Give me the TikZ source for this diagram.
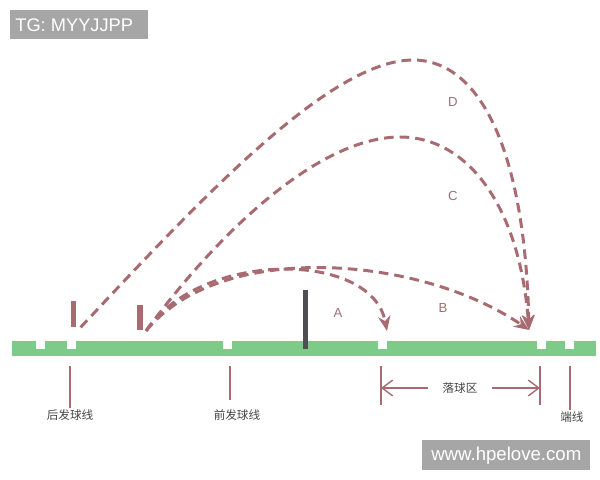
\documentclass[tikz,border=0pt]{standalone}
\usepackage{fontspec}
\setmainfont{Liberation Sans}
\newfontfamily\cjk{Noto Sans CJK SC}
\usetikzlibrary{positioning,arrows.meta}
\definecolor{court}{HTML}{7DCB88}
\definecolor{shot}{HTML}{A86B71}
\definecolor{netgray}{HTML}{4F4F53}
\definecolor{txtgray}{HTML}{444444}
\definecolor{wmgray}{HTML}{A6A6A6}

\begin{document}
\begin{tikzpicture}[x=0.02cm,y=-0.02cm,
    player/.style={fill=shot,inner sep=0pt,minimum width=0.11cm,minimum height=0.52cm},
    traj/.style={draw=shot,line width=1.7pt,dash pattern=on 5.5pt off 3.4pt,-{Stealth[length=8.5pt,width=7pt]}},
    ltr/.style={text=shot!80!gray,font=\fontsize{7.5}{9}\selectfont},
    lbl/.style={text=txtgray,font=\cjk\fontsize{6.6}{8}\selectfont,inner sep=1pt},
    tick/.style={draw=shot,line width=0.8pt},
    wmbox/.style={fill=wmgray,text=white,font=\fontsize{10.4}{12}\selectfont,inner sep=0pt,anchor=north west}]
    \useasboundingbox (0,0) rectangle (600,480);

    % court
    \fill[court] (12,341) rectangle (596,356);
    \foreach \n in {36,67,223,378,537,565}
      \fill[white] (\n,341) rectangle ++(9,8);
    \fill[netgray] (303,290) rectangle (308,349);

    % players and landing points
    \node[player] (back) at (73.5,314) {};
    \node[player] (front) at (140,317.5) {};
    \coordinate (landA) at (387,331);
    \coordinate (landB) at (529,330);

    % shots
    \draw[traj] ([xshift=0.08cm]back.south east) .. controls (200,200) and (330,60) .. (413,60)
      .. controls (480,60) and (525,150) .. (landB);
    \draw[traj] ([xshift=0.06cm]front.south east) .. controls (220,230) and (320,137) .. (400,137)
      .. controls (470,137) and (520,210) .. (landB);
    \draw[traj] ([xshift=0.06cm]front.south east) .. controls (220,240) and (420,255) .. (landB);
    \draw[traj] ([xshift=0.06cm]front.south east) .. controls (200,250) and (372,250) .. (landA);

    \node[ltr] (A) at (338,313) {A};
    \node[ltr] (B) at (443,308) {B};
    \node[ltr] (C) at (453,196) {C};
    \node[ltr] (D) at (453,102) {D};

    % lines
    \node[lbl] (backline) at (70,415) {后发球线};
    \node[lbl] (frontline) at (237,415) {前发球线};
    \node[lbl] (endline) at (572,417) {端线};
    \node[lbl,inner sep=8pt] (zone) at (460,388) {落球区};
    \coordinate (zoneL) at (381,366);
    \coordinate (zoneR) at (540,366);
    \coordinate (endtop) at (570,366);
    \draw[tick] (70,366) -- (backline.north);
    \draw[tick] (230,366) -- (230,400);
    \draw[tick] (endtop) -- (endtop |- endline.north);
    \draw[tick] (zoneL) -- ++(0,39);
    \draw[tick] (zoneR) -- ++(0,39);
    \draw[tick,-{Straight Barb[length=6pt,width=9pt]}] (zone.west) -- (zoneL |- zone);
    \draw[tick,-{Straight Barb[length=6pt,width=9pt]}] (zone.east) -- (zoneR |- zone);

    % watermarks
    \node[wmbox,minimum width=2.76cm,minimum height=0.58cm] (tg) at (10,10) {};
    \node[text=white,font=\fontsize{10.4}{12}\selectfont,anchor=west,inner sep=0pt] (tgtext) at ([xshift=0.1cm]tg.west) {TG: MYYJJPP};
    \node[wmbox,minimum width=3.36cm,minimum height=0.6cm] (site) at (422,440) {};
    \node[text=white,font=\fontsize{10.6}{12}\selectfont,inner sep=0pt] (sitetext) at (site.center) {www.hpelove.com};
\end{tikzpicture}
\end{document}
